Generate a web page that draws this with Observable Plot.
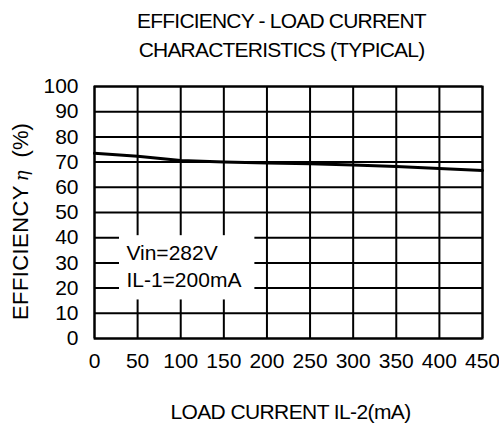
<!DOCTYPE html>
<html>
<head>
<meta charset="utf-8">
<script src="https://cdn.jsdelivr.net/npm/d3@7"></script>
<script src="https://cdn.jsdelivr.net/npm/@observablehq/plot@0.6"></script>
<style>
  html, body { margin: 0; padding: 0; background: #fff; }
  svg { font-family: "Liberation Sans", Arial, sans-serif; }
</style>
</head>
<body>
<div id="chart"></div>
<script>
const titleLines = ["EFFICIENCY - LOAD CURRENT", "CHARACTERISTICS (TYPICAL)"];
const xLabel = "LOAD CURRENT IL-2(mA)";
const yLabelParts = ["EFFICIENCY", "η", "(%)"];
const legendLines = ["Vin=282V", "IL-1=200mA"];
const loadCurrent = [0, 50, 100, 150, 200, 250, 300, 350, 400, 450];
const efficiency = [73.5, 72.3, 70.6, 70.0, 69.6, 69.3, 68.8, 68.3, 67.5, 66.7];
const xTicks = [0, 50, 100, 150, 200, 250, 300, 350, 400, 450];
const yTicks = [0, 10, 20, 30, 40, 50, 60, 70, 80, 90, 100];

const data = loadCurrent.map((x, i) => ({x, y: efficiency[i]}));

const chart = Plot.plot({
  width: 499,
  height: 432,
  marginLeft: 94,
  marginRight: 17,
  marginTop: 86,
  marginBottom: 94,
  style: {fontFamily: "'Liberation Sans', Arial, sans-serif", color: "#000", background: "#fff"},
  x: {domain: [0, 450], ticks: xTicks, label: null},
  y: {domain: [0, 100], ticks: yTicks, label: null},
  marks: [
    Plot.gridX(xTicks, {stroke: "#000", strokeOpacity: 1, strokeWidth: 2}),
    Plot.gridY(yTicks, {stroke: "#000", strokeOpacity: 1, strokeWidth: 2}),
    Plot.frame({stroke: "#000", strokeWidth: 2}),
    Plot.rect([{x1: 29, x2: 186, y1: 15.3, y2: 40.8}], {x1: "x1", x2: "x2", y1: "y1", y2: "y2", fill: "#fff"}),
    Plot.text(legendLines, {x: 37, y: (d, i) => [34, 23][i], text: d => d, textAnchor: "start", fontSize: 21, fill: "#000"}),
    Plot.line(data, {x: "x", y: "y", stroke: "#000", strokeWidth: 3}),
    Plot.axisX(xTicks, {tickSize: 0, tickPadding: 15, fontSize: 21, fill: "#000"}),
    Plot.axisY(yTicks, {tickSize: 0, tickPadding: 16, fontSize: 21, fill: "#000"}),
    Plot.text([xLabel], {frameAnchor: "bottom", dy: 80, dx: 2, fontSize: 21, fill: "#000"}),
    Plot.text([titleLines[0]], {frameAnchor: "top", dy: -73, dx: -7, fontSize: 21, fill: "#000"}),
    Plot.text([titleLines[1]], {frameAnchor: "top", dy: -44, dx: -7, fontSize: 21, fill: "#000"})
  ]
});

const svg = d3.select(chart);
// tighten letter spacing of title and x label (condensed look of the reference)
svg.selectAll("text").each(function() {
  const t = this.textContent;
  if (titleLines.includes(t)) d3.select(this).attr("letter-spacing", "-0.8");
  if (t === xLabel) d3.select(this).attr("letter-spacing", "-0.6");
});

// Rotated y-axis label with italic eta
const yl = svg.append("text")
  .attr("transform", "translate(28,320) rotate(-90)")
  .attr("text-anchor", "start")
  .attr("font-size", 22)
  .attr("fill", "#000");
yl.append("tspan").attr("letter-spacing", "0.4").text(yLabelParts[0]);
yl.append("tspan").attr("dx", 4).attr("font-style", "italic").attr("font-family", "'DejaVu Serif', serif").attr("font-size", 18).text(yLabelParts[1]);
yl.append("tspan").attr("dx", 13).text(yLabelParts[2]);

document.getElementById("chart").appendChild(chart);
</script>
</body>
</html>
